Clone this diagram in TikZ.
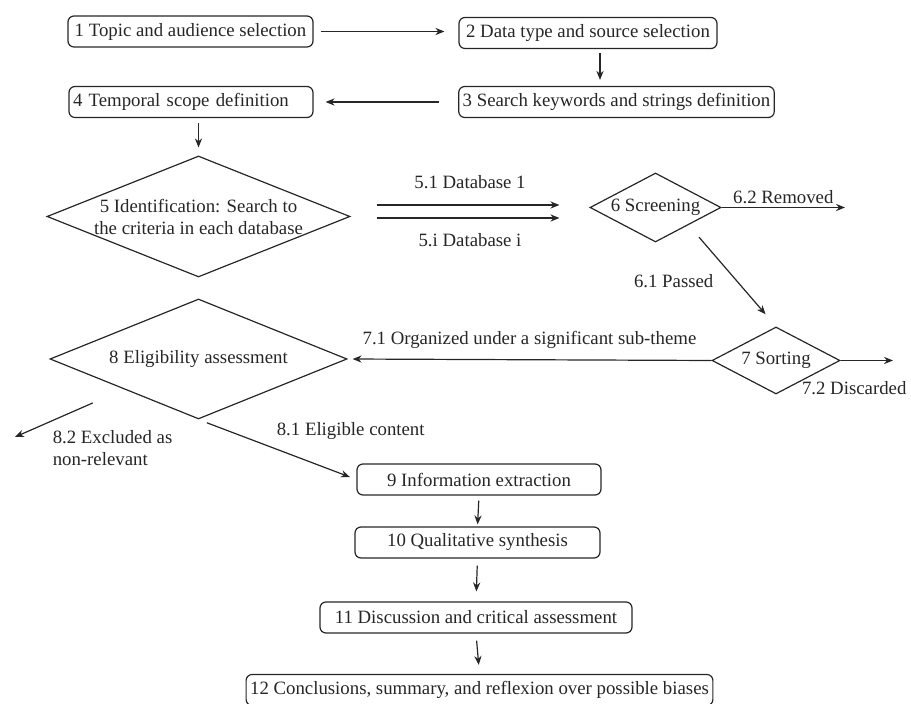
\documentclass[tikz,border=0pt]{standalone}
\usepackage{fontspec}
\setmainfont{Liberation Serif}
\usetikzlibrary{arrows.meta}
\usetikzlibrary{shapes.geometric}
\usetikzlibrary{calc}
\tikzstyle{stage}=[draw, rounded corners=3pt, inner xsep=2pt, inner ysep=0, minimum height=15.5pt]
\tikzstyle{decision}=[draw, diamond, inner sep=0, aspect=2]
\tikzstyle{flow}=[draw, -{Stealth[length=4.5pt, width=3.6pt]}]
\tikzstyle{flowchart}=[x=0.5pt, y=-0.5pt, line width=0.6pt, black!85,
                       % Text of every node and label.
                       every node/.style={font=\fontsize{9.4}{11}\selectfont}]

\begin{document}
\begin{tikzpicture}[flowchart]
        \useasboundingbox (0,0) rectangle (911,704);
        \node[stage, minimum width=122.5pt] (S1) at (190.5,31.5) {1 Topic and audience selection};
        \node[stage, minimum width=129pt] (S2) at (588,33) {2 Data type and source selection};
        \node[stage, minimum width=157.5pt] (S3) at (616.5,102) {3 Search keywords and strings definition};
        \node[stage, text width=118pt, align=left] (S4) at (191,102) {4 Temporal scope definition};
        \node[decision, minimum width=151.5pt, minimum height=60.5pt, aspect=2.5, inner xsep=-10pt, align=center] (D5) at (198.5,216.5) {5 Identification: Search to\\the criteria in each database};
        \node[decision, minimum width=65.5pt, minimum height=34.5pt] (D6) at (655.5,207.5) {6 Screening};
        \node[decision, minimum width=64pt, minimum height=33.5pt] (D7) at (776,360.5) {7 Sorting};
        \node[decision, minimum width=148.5pt, minimum height=60pt, aspect=2.5] (D8) at (198.5,359) {8 Eligibility assessment};
        \node[stage, minimum width=122pt] (S9) at (479,479.5) {9 Information extraction};
        \node[stage, minimum width=122.5pt] (S10) at (477.5,542.5) {10 Qualitative synthesis};
        \node[stage, minimum width=156pt] (S11) at (476,617.5) {11 Discussion and critical assessment};
        \node[stage, minimum width=230.5pt] (S12) at (479.5,690) {12 Conclusions, summary, and reflexion over possible biases};
        \coordinate (removed) at (845,207.5);
        \coordinate (discarded) at (893,360.5);
        \coordinate (excluded) at (15,437);
        % Top rows.
        \draw[flow, shorten <=3.5pt, shorten >=7pt] (S1.east) -- (S1.east -| S2.west);
        \draw[flow, shorten <=2pt, shorten >=3pt] ($(S2.south)+(12,0)$) -- ($(S2.south |- S3.north)+(12,0)$);
        \draw[flow, shorten <=9.5pt, shorten >=6pt] (S3.west) -- (S4.east);
        \draw[flow, shorten <=2.5pt, shorten >=4pt] (D5.north |- S4.south) -- (D5.north);
        % Search and screening.
        \draw[flow, shorten <=13pt, shorten >=15pt] ($(D5.east)+(0,-11.5)$) -- ($(D5.east -| D6.west)+(0,-11.5)$) node[midway, above=4.5pt] {5.1 Database 1};
        \draw[flow, shorten <=13pt, shorten >=15pt] ($(D5.east)+(0,1.5)$) -- ($(D5.east -| D6.west)+(0,1.5)$) node[midway, below=4pt] {5.i Database i};
        \draw[flow] (D6.east) -- (removed) node[midway, above=-2pt] {6.2 Removed};
        \draw[flow, shorten <=8pt, shorten >=8pt] (D6.south east) -- (D7.north) node[pos=0.55, left=8pt] {6.1 Passed};
        \draw[flow] (D7.east) -- (discarded) node[pos=0.26, below=7pt] {7.2 Discarded};
        \draw[flow, shorten >=2.5pt] (D7.west) -- (D8.east) node[midway, above=2pt] {7.1 Organized under a significant sub-theme};
        % Eligibility and synthesis.
        \draw[flow, shorten <=17pt] (D8.south west) -- (excluded) node[pos=0.72, anchor=north west, align=left] {8.2 Excluded as\\non-relevant};
        \draw[flow, shorten <=4.5pt, shorten >=3.5pt] (D8.south) -- (S9.west) node[pos=0.45, above right=0pt] {8.1 Eligible content};
        \draw[flow, shorten <=2.5pt, shorten >=1pt] (S9.south) -- (S10.north);
        \draw[flow, shorten <=3.5pt, shorten >=5pt] (S10.south) -- (S11.north);
        \draw[flow, shorten <=3.5pt, shorten >=4.5pt] (S11.south) -- (S12.north);
    \end{tikzpicture}
\end{document}
